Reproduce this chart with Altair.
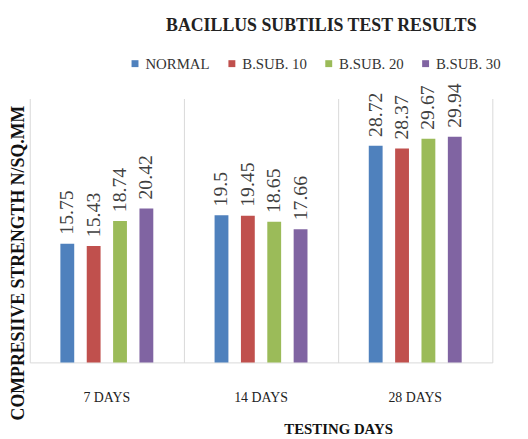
import altair as alt
import pandas as pd

days = ["7 DAYS", "14 DAYS", "28 DAYS"]
series = ["NORMAL", "B.SUB. 10", "B.SUB. 20", "B.SUB. 30"]
colors = ["#4F81BD", "#C0504D", "#9BBB59", "#8064A2"]
normal = [15.75, 19.5, 28.72]
bsub10 = [15.43, 19.45, 28.37]
bsub20 = [18.74, 18.65, 29.67]
bsub30 = [20.42, 17.66, 29.94]

rows = []
for name, vals in zip(series, [normal, bsub10, bsub20, bsub30]):
    for d, v in zip(days, vals):
        rows.append({"day": d, "series": name, "value": v, "label": str(v)})
df = pd.DataFrame(rows)

FONT = "Liberation Serif"
GRID = "#D9D9D9"

x = alt.X("day:N", sort=days,
          scale=alt.Scale(paddingInner=0, paddingOuter=0),
          axis=alt.Axis(title="TESTING DAYS", grid=True, bandPosition=0,
                        gridColor=GRID, domainColor=GRID, ticks=False,
                        labelAngle=0, labelPadding=29, labelFontSize=14,
                        labelFont=FONT, labelColor="#222222",
                        titleFont=FONT, titleFontSize=15, titleFontWeight="bold",
                        titleX=312, titleY=60, titleBaseline="top",
                        titleColor="#111111"))
xoff = alt.XOffset("series:N", sort=series,
                   scale=alt.Scale(paddingInner=0, paddingOuter=0.925))
y = alt.Y("value:Q", scale=alt.Scale(domain=[0, 35], nice=False),
          axis=alt.Axis(orient="right", title="COMPRESIIVE STRENGTH N/SQ.MM",
                        grid=False, labels=False, ticks=False, domain=True,
                        domainColor=GRID, titleAngle=270,
                        titleX=-479, titleY=166, titleAlign="center",
                        titleBaseline="middle", titleFont=FONT,
                        titleFontSize=18, titleFontWeight="bold",
                        titleColor="#111111"))

bars = alt.Chart(df).mark_bar(size=14).encode(
    x=x, xOffset=xoff, y=y,
    color=alt.Color("series:N", sort=series,
                    scale=alt.Scale(domain=series, range=colors),
                    legend=alt.Legend(title=None, orient="none", direction="horizontal",
                                      columns=4, gridAlign="all", columnPadding=14,
                                      legendX=99, legendY=-43, symbolType="square",
                                      symbolSize=49, symbolStrokeWidth=0,
                                      labelFont=FONT, labelFontSize=15,
                                      labelColor="#333333", labelOffset=3)),
)

labels = alt.Chart(df).mark_text(angle=270, align="left", baseline="middle",
                                 dx=9, font=FONT, fontSize=20,
                                 color="#404040").encode(
    x=alt.X("day:N", sort=days), xOffset=alt.XOffset("series:N", sort=series),
    y=alt.Y("value:Q"), text="label:N")

chart = alt.layer(bars, labels).properties(
    width=468, height=267,
    title=alt.TitleParams("BACILLUS SUBTILIS TEST RESULTS", font=FONT, fontSize=18,
                          fontWeight="bold", color="#222222", dx=61, dy=-17),
    autosize=alt.AutoSizeParams(type="none"),
    padding={"left": 22, "top": 89, "right": 28, "bottom": 80},
).configure_view(stroke=None)

chart.save("out.html", embed_options={"renderer": "svg", "actions": False})
